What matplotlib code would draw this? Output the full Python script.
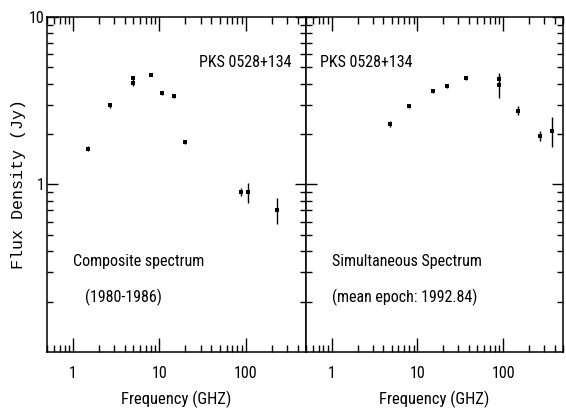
import numpy as np
import matplotlib
matplotlib.use("Agg")
import matplotlib.pyplot as plt
from matplotlib import font_manager
from matplotlib.ticker import LogLocator, NullFormatter, FixedLocator, FixedFormatter

# Composite spectrum (1980-1986)
comp_freq = [1.5, 2.7, 4.9, 5.0, 8.0, 10.7, 14.9, 20.0, 88.0, 107.0, 230.0]
comp_flux = [1.64, 2.98, 4.30, 4.02, 4.50, 3.50, 3.38, 1.79, 0.90, 0.90, 0.705]
comp_err = [0.06, 0.10, 0.15, 0.15, 0.08, 0.06, 0.08, 0.05, 0.05, 0.12, 0.12]

# Simultaneous spectrum (mean epoch 1992.84)
sim_freq = [4.8, 8.0, 15.0, 22.0, 37.0, 90.0, 90.0, 150.0, 270.0, 375.0]
sim_flux = [2.30, 2.94, 3.60, 3.87, 4.31, 4.28, 3.95, 2.76, 1.96, 2.10]
sim_err = [0.10, 0.06, 0.07, 0.12, 0.12, 0.20, 0.66, 0.17, 0.14, 0.43]

x_ticks = [1, 10, 100]
x_tick_labels = ["1", "10", "100"]
y_ticks = [1, 10]
y_tick_labels = ["1", "10"]

# prefer a condensed sans (the original is Helvetica-narrow-ish)
names = {f.name for f in font_manager.fontManager.ttflist}
sans, fs, tfs = "Liberation Sans", 10.5, 10
for cand in ["Liberation Sans Narrow", "Roboto Condensed", "DejaVu Sans Condensed",
             "Open Sans Condensed"]:
    if cand in names:
        sans, fs, tfs = cand, 11.5, 11.5
        break
mono = "Liberation Mono"

W, H = 566, 409
fig = plt.figure(figsize=(W / 100, H / 100), dpi=100)


def px_axes(x0, x1, y0, y1):
    return fig.add_axes([x0 / W, 1 - y1 / H, (x1 - x0) / W, (y1 - y0) / H])


ax1 = px_axes(47, 306, 17, 352)
ax2 = px_axes(306, 563, 17, 352)

panels = [
    (ax1, comp_freq, comp_flux, comp_err),
    (ax2, sim_freq, sim_flux, sim_err),
]

for ax, f, s, e in panels:
    ax.set_xscale("log")
    ax.set_yscale("log")
    ax.set_xlim(0.5, 500)
    ax.set_ylim(0.1, 10)
    ax.errorbar(f, s, yerr=e, fmt="s", color="black", ms=3.3, mew=0,
                elinewidth=1.0, capsize=2.5, capthick=1.0)
    for sp in ax.spines.values():
        sp.set_linewidth(1.1)
    ax.xaxis.set_major_locator(FixedLocator(x_ticks))
    ax.xaxis.set_major_formatter(FixedFormatter(x_tick_labels))
    ax.xaxis.set_minor_locator(LogLocator(base=10, subs=np.arange(2, 10), numticks=20))
    ax.xaxis.set_minor_formatter(NullFormatter())
    ax.yaxis.set_major_locator(FixedLocator(y_ticks))
    ax.yaxis.set_major_formatter(FixedFormatter(y_tick_labels))
    ax.yaxis.set_minor_locator(LogLocator(base=10, subs=np.arange(2, 10), numticks=20))
    ax.yaxis.set_minor_formatter(NullFormatter())
    ax.tick_params(axis="both", which="both", direction="in", top=True, right=True,
                   width=1.0, colors="black")
    ax.tick_params(axis="x", which="major", length=10, pad=10)
    ax.tick_params(axis="x", which="minor", length=5)
    ax.tick_params(axis="y", which="major", length=8, pad=2)
    ax.tick_params(axis="y", which="minor", length=4)
    for lab in ax.get_xticklabels() + ax.get_yticklabels():
        lab.set_fontfamily(sans)
        lab.set_fontsize(tfs)
    ax.set_xlabel("Frequency (GHZ)", fontfamily=sans, fontsize=fs + 0.5, labelpad=7)

ax2.tick_params(axis="y", which="both", labelleft=False)
ax1.set_ylabel("Flux Density (Jy)", fontfamily=mono, fontsize=12, labelpad=2)

ax1.text(0.945, 0.865, "PKS 0528+134", transform=ax1.transAxes, ha="right",
         va="center", fontfamily=sans, fontsize=fs)
ax2.text(0.055, 0.865, "PKS 0528+134", transform=ax2.transAxes, ha="left",
         va="center", fontfamily=sans, fontsize=fs)
ax1.text(0.10, 0.27, "Composite spectrum", transform=ax1.transAxes, ha="left",
         va="center", fontfamily=sans, fontsize=fs)
ax1.text(0.147, 0.163, "(1980-1986)", transform=ax1.transAxes, ha="left",
         va="center", fontfamily=sans, fontsize=fs)
ax2.text(0.10, 0.27, "Simultaneous Spectrum", transform=ax2.transAxes, ha="left",
         va="center", fontfamily=sans, fontsize=fs)
ax2.text(0.10, 0.163, "(mean epoch: 1992.84)", transform=ax2.transAxes, ha="left",
         va="center", fontfamily=sans, fontsize=fs)

fig.savefig("out.png", dpi=100)
